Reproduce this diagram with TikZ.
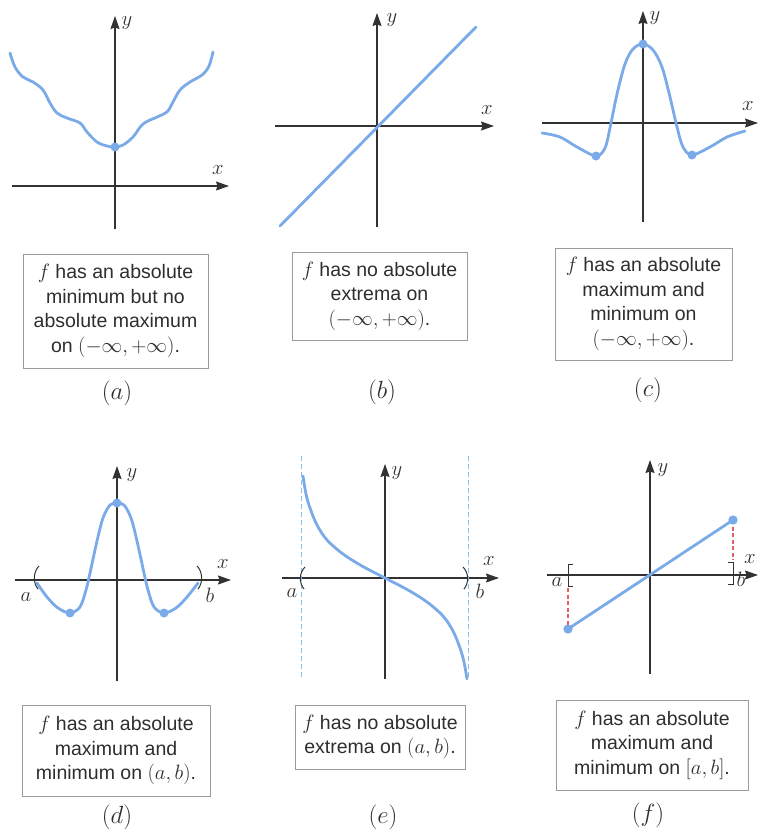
\documentclass[tikz,border=0pt]{standalone}
\usepackage{fontspec}
\setmainfont{Liberation Sans}
\usetikzlibrary{arrows.meta}
\definecolor{curveblue}{RGB}{122,170,232}
\definecolor{axisgray}{RGB}{50,50,50}
\definecolor{boxgray}{RGB}{155,155,155}
\definecolor{dashred}{RGB}{228,95,105}
\definecolor{asymblue}{RGB}{140,190,235}
\begin{document}
\begin{tikzpicture}[x=1pt,y=-1pt,
  axis/.style={draw=axisgray, line width=1.2pt, -{Stealth[length=13pt,width=9pt,inset=1.5pt]}},
  curve/.style={draw=curveblue, line width=2.8pt, line cap=round, line join=round},
  dot/.style={circle, fill=curveblue, inner sep=0pt, minimum size=9pt},
  caption/.style={draw=boxgray, line width=1pt, align=center, text=black!82,
    font=\fontsize{19.5}{24.5}\selectfont, inner sep=0pt},
  sublabel/.style={font=\fontsize{23}{26}\selectfont, text=black!82},
  axlabel/.style={font=\fontsize{20}{24}\selectfont, text=black!80, inner sep=0pt},
  bracket/.style={draw=axisgray, line width=1pt},
  asym/.style={draw=asymblue, line width=0.8pt, dash pattern=on 5pt off 3pt},
  reddash/.style={draw=dashred, line width=1.1pt, dash pattern=on 4pt off 2.5pt}]
\useasboundingbox (0,0) rectangle (758,831);

% ---------- (a)
\coordinate (axL) at (12,186); \coordinate (axR) at (229,186);
\coordinate (ayB) at (115,229); \coordinate (ayT) at (115,16);
\draw[axis] (axL) -- (axR);
\draw[axis] (ayB) -- (ayT);
\node[axlabel] (ay) at (127,23) {$y$};
\node[axlabel] (ax) at (218,170) {$x$};
\draw[curve] plot[smooth, tension=0.6] coordinates {(10,53) (15,67) (23,77) (33,82) (43,90) (50,103) (57,113) (67,118) (80,123) (87,132) (97,142) (107,146) (115,147) (123,145) (133,137) (143,124) (157,117) (167,112) (173,102) (180,90) (190,82) (202,75) (209,66) (213,52)};
\node[dot] (amin) at (115,147) {};
\node[caption, minimum width=185pt, minimum height=114pt] (capa) at (115.5,311)
  {$f$ has an absolute\\minimum but no\\absolute maximum\\on $(-\infty, +\infty)$.};
\node[sublabel] (la) at (117,393) {$(a)$};

% ---------- (b)
\coordinate (bxL) at (275,126); \coordinate (bxR) at (494,126);
\coordinate (byB) at (377,227); \coordinate (byT) at (377,13);
\draw[axis] (bxL) -- (bxR);
\draw[axis] (byB) -- (byT);
\node[axlabel] (by) at (392,20) {$y$};
\node[axlabel] (bx) at (487,110) {$x$};
\coordinate (bl1) at (280,226); \coordinate (bl2) at (476,27);
\draw[curve] (bl1) -- (bl2);
\node[caption, minimum width=175pt, minimum height=88pt] (capb) at (379.5,296)
  {$f$ has no absolute\\extrema on\\$(-\infty, +\infty)$.};
\node[sublabel] (lb) at (382,392) {$(b)$};

% ---------- (c)
\coordinate (cxL) at (542,123); \coordinate (cxR) at (758,123);
\coordinate (cyB) at (643,222); \coordinate (cyT) at (643,11);
\draw[axis] (cxL) -- (cxR);
\draw[axis] (cyB) -- (cyT);
\node[axlabel] (cy) at (655,18) {$y$};
\node[axlabel] (cx) at (748,106) {$x$};
\draw[curve] plot[smooth, tension=0.55] coordinates {(542,133) (560,137) (577,147) (596,156) (605,148) (610,128) (617,94) (625,64) (633,49) (643,44) (653,50) (662,67) (670,97) (677,127) (683,147) (692,155) (710,147) (727,137) (745,131)};
\node[dot] (cmin1) at (596,156) {};
\node[dot] (cmax) at (643,44) {};
\node[dot] (cmin2) at (692,155) {};
\node[caption, minimum width=177pt, minimum height=112pt] (capc) at (643.5,304)
  {$f$ has an absolute\\maximum and\\minimum on\\$(-\infty, +\infty)$.};
\node[sublabel] (lc) at (648,390) {$(c)$};

% ---------- (d)
\coordinate (dxL) at (15,580); \coordinate (dxR) at (231,580);
\coordinate (dyB) at (117,681); \coordinate (dyT) at (117,466);
\draw[axis] (dxL) -- (dxR);
\draw[axis] (dyB) -- (dyT);
\node[axlabel] (dy) at (132,475) {$y$};
\node[axlabel] (dx) at (223,564) {$x$};
\node[axlabel] (da) at (26,597) {$a$};
\node[axlabel] (db) at (210,595) {$b$};
\draw[bracket] (39,566) .. controls (33,572) and (33,583) .. (38,589);
\draw[bracket] (197,566) .. controls (203,572) and (203,583) .. (198,589);
\draw[curve] plot[smooth, tension=0.55] coordinates {(37,583) (47,597) (58,608) (70,613) (80,607) (86,590) (90,573) (97,541) (103,518) (110,505) (117,503) (124,505) (131,518) (137,541) (144,573) (148,590) (154,607) (164,613) (176,608) (187,597) (198,583)};
\node[dot] (dmin1) at (70,613) {};
\node[dot] (dmax) at (117,503) {};
\node[dot] (dmin2) at (164,613) {};
\node[caption, minimum width=188pt, minimum height=91pt] (capd) at (116,750.5)
  {$f$ has an absolute\\maximum and\\minimum on $(a, b)$.};
\node[sublabel] (ld) at (117,817) {$(d)$};

% ---------- (e)
\coordinate (exL) at (282,578); \coordinate (exR) at (499,578);
\coordinate (eyB) at (385,679); \coordinate (eyT) at (385,464);
\draw[axis] (exL) -- (exR);
\draw[axis] (eyB) -- (eyT);
\node[axlabel] (ey) at (397,473) {$y$};
\node[axlabel] (ex) at (489,561) {$x$};
\node[axlabel] (ea) at (292,593) {$a$};
\node[axlabel] (eb) at (480,591) {$b$};
\coordinate (eas1) at (301,456); \coordinate (eas2) at (301,679);
\coordinate (eas3) at (468,456); \coordinate (eas4) at (468,679);
\draw[asym] (eas1) -- (eas2);
\draw[asym] (eas3) -- (eas4);
\draw[bracket] (305,567) .. controls (299,573) and (299,583) .. (304,589);
\draw[bracket] (463,567) .. controls (469,573) and (469,583) .. (464,589);
\draw[curve] plot[smooth, tension=0.55] coordinates {(303,476) (306,494) (310,508) (317,525) (327,540) (343,554) (362,566) (385,578) (408,590) (427,602) (443,616) (453,631) (460,648) (464,662) (467,679)};
\node[caption, minimum width=170pt, minimum height=64pt] (cape) at (380,737)
  {$f$ has no absolute\\extrema on $(a, b)$.};
\node[sublabel] (le) at (383,817) {$(e)$};

% ---------- (f)
\coordinate (fxL) at (547,575); \coordinate (fxR) at (758,575);
\coordinate (fyB) at (650,674); \coordinate (fyT) at (650,460);
\draw[axis] (fxL) -- (fxR);
\draw[axis] (fyB) -- (fyT);
\node[axlabel] (fy) at (663,470) {$y$};
\node[axlabel] (fx) at (750,559) {$x$};
\node[axlabel] (fa) at (557,582) {$a$};
\node[axlabel] (fb) at (741,579) {$b$};
\draw[bracket] (573,564) -- (568,564) -- (568,586) -- (573,586);
\draw[bracket] (728,562) -- (733,562) -- (733,584) -- (728,584);
\node[dot] (fmin) at (568,629) {};
\node[dot] (fmax) at (733,520) {};
\coordinate (fra) at (568,588); \coordinate (frb) at (733,560);
\draw[reddash] (fra) -- (fmin.center);
\draw[reddash] (fmax.center) -- (frb);
\draw[curve] (fmin.center) -- (fmax.center);
\node[dot] at (fmin.center) {};
\node[dot] at (fmax.center) {};
\node[caption, minimum width=192pt, minimum height=90pt] (capf) at (652,745)
  {$f$ has an absolute\\maximum and\\minimum on $[a, b]$.};
\node[sublabel] (lf) at (648,815) {$(f)$};
\end{tikzpicture}
\end{document}
